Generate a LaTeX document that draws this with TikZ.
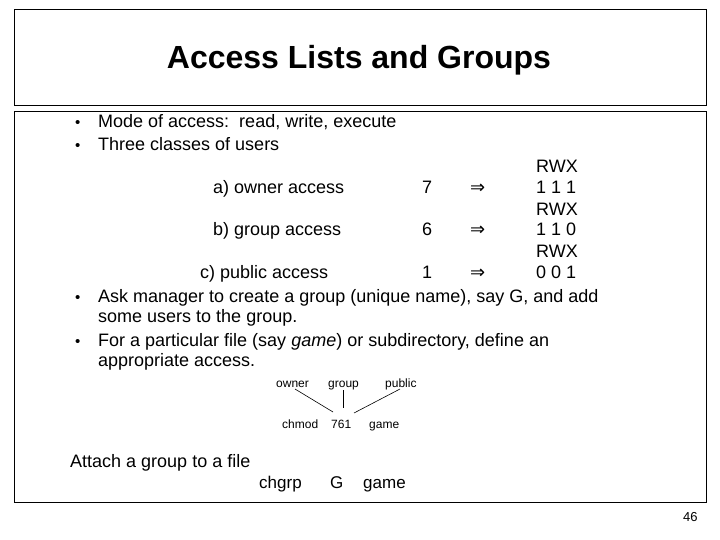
\documentclass[tikz,border=0pt]{standalone}
\usepackage{fontspec}
\setmainfont{Liberation Sans}
\newfontfamily\djv{DejaVu Sans}
\begin{document}
\begin{tikzpicture}[x=1pt,y=-1pt,
  txt/.style={anchor=base west,inner sep=0pt,font=\fontsize{18}{21}\selectfont},
  sm/.style={anchor=base west,inner sep=0pt,font=\fontsize{12}{14}\selectfont},
  big/.style={anchor=base west,inner sep=0pt,font=\fontsize{17}{20}\selectfont},
  box/.style={draw,line width=0.9pt}]
\useasboundingbox (0,0) rectangle (720,540);
\draw[box] (14,9) rectangle (706,105);
\draw[box] (14,111) rectangle (706,502);
\node[anchor=base,inner sep=0pt,font=\fontsize{32}{36}\selectfont\bfseries] (title) at (359,69) {Access Lists and Groups};
\foreach \y/\n in {128/b1,151/b2,302/b3,346/b4}{\node[txt,font=\fontsize{15}{18}\selectfont] (\n) at (75,\y) {•};}
\node[txt] (m1) at (98,128) {Mode of access:\ \ read, write, execute};
\node[txt] (m2) at (98,151) {Three classes of users};
\node[txt] (a) at (213,194) {a) owner access};
\node[txt] (b) at (213,236) {b) group access};
\node[txt] (c) at (200,278) {c) public access};
\node[txt] (n7) at (422,194) {7};
\node[txt] (n6) at (422,236) {6};
\node[txt] (n1) at (422,278) {1};
\foreach \y/\n in {194/ra,236/rb,278/rc}{\node[txt,font=\djv\fontsize{18}{20}\selectfont] (\n) at (470,\y) {⇒};}
\node[txt] (w1) at (536,173) {RWX};
\node[txt] (v1) at (536,194) {1 1 1};
\node[txt] (w2) at (536,215) {RWX};
\node[txt] (v2) at (536,236) {1 1 0};
\node[txt] (w3) at (536,257) {RWX};
\node[txt] (v3) at (536,278) {0 0 1};
\node[txt] (p1) at (98,302) {Ask manager to create a group (unique name), say G, and add};
\node[txt] (p2) at (98,322) {some users to the group.};
\node[txt] (p3) at (98,346) {For a particular file (say \textit{game}) or subdirectory, define an};
\node[txt] (p4) at (98,366) {appropriate access.};
\node[sm] (ow) at (276,387) {owner};
\node[sm] (gr) at (328,387) {group};
\node[sm] (pu) at (385,387) {public};
\node[sm] (ch) at (282,428) {chmod};
\node[sm] (sv) at (331,428) {761};
\node[sm] (ga) at (369,428) {game};
\draw[line width=0.6pt] (295,389) -- (333,412);
\draw[line width=0.6pt] (343,390) -- (343,408);
\draw[line width=0.6pt] (400,389) -- (354,413);
\node[txt] (at) at (70,467) {Attach a group to a file};
\node[big] (cg) at (259,488) {chgrp};
\node[big] (G) at (330,488) {G};
\node[big] (gm) at (363,488) {game};
\node[sm,font=\fontsize{13}{15}\selectfont] (pg) at (683,521) {46};
\end{tikzpicture}
\end{document}
